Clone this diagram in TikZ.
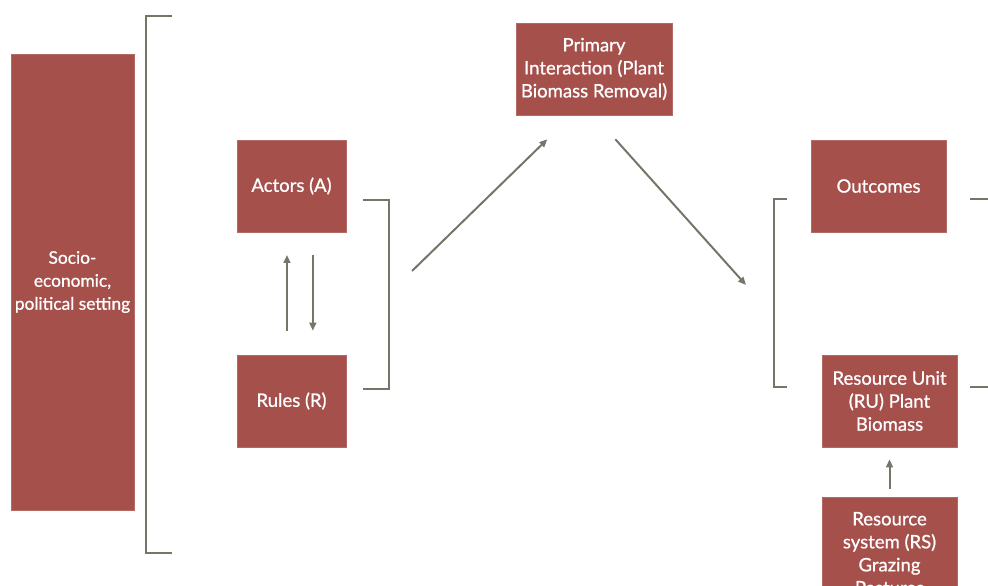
\documentclass[tikz,border=0pt]{standalone}
\usepackage{fontspec}
\setmainfont{Lato}[FakeBold=0.8]
\usetikzlibrary{arrows.meta}
\definecolor{boxred}{RGB}{166,80,76}
\definecolor{lineolive}{RGB}{118,117,104}
\begin{document}
\begin{tikzpicture}[
x=0.75pt, y=-0.75pt,
box/.style={rectangle, fill=boxred, draw=boxred!85!white, thin, text=white, align=center, inner sep=0pt, font=\fontsize{13.9}{17.25}\selectfont},
to/.style={-{Triangle[length=6pt,width=5pt]}, draw=lineolive, line width=1.5pt},
brack/.style={draw=lineolive, line width=1.5pt},
]
\useasboundingbox (0,0) rectangle (988,585);
\clip (0,0) rectangle (988,585);
%nodes
\node[box, minimum width=92.25pt, minimum height=342pt, font=\fontsize{13}{17.25}\selectfont](setting) at (72.5,282) {Socio-\\economic,\\political setting};
\node[box, minimum width=81.75pt, minimum height=69pt](actors) at (291.5,186) {Actors (A)};
\node[box, minimum width=81.75pt, minimum height=69pt](rules) at (291.5,401) {Rules (R)};
\node[box, minimum width=117pt, minimum height=69pt](primary) at (594,69) {Primary\\Interaction (Plant\\Biomass Removal)};
\node[box, minimum width=101.25pt, minimum height=69pt](outcomes) at (878.5,186) {Outcomes};
\node[box, minimum width=101.25pt, minimum height=69pt](unit) at (889.5,401) {Resource Unit\\(RU) Plant\\Biomass};
\node[box, minimum width=101.25pt, minimum height=84pt, anchor=north](system) at (889.5,497) {Resource\\system (RS)\\Grazing\\Pastures};
%brackets
\coordinate (lb) at (412,271);
\coordinate (rb) at (746,285);
\draw[brack] (172,16) -- (146,16) -- (146,553) -- (172,553);
\draw[brack] (363,200) -- (389,200) -- (389,389) -- (363,389);
\draw[brack] (787,199) -- (774,199) -- (774,387) -- (787,387);
\draw[brack] (970,199) -- (988,199);
\draw[brack] (970,387) -- (988,387);
%connections
\draw[to] ([xshift=-3.4pt,yshift=18pt]rules.north) -- ([xshift=-3.4pt,yshift=-17pt]actors.south);
\draw[to] ([xshift=16pt,yshift=-17pt]actors.south) -- ([xshift=16pt,yshift=18pt]rules.north);
\draw[to] (lb) -- ([xshift=-35pt,yshift=-18pt]primary.south);
\draw[to] ([xshift=16pt,yshift=-18pt]primary.south) -- (rb);
\draw[to] ([yshift=6pt]system.north) -- ([yshift=-9pt]unit.south);
\end{tikzpicture}
\end{document}
